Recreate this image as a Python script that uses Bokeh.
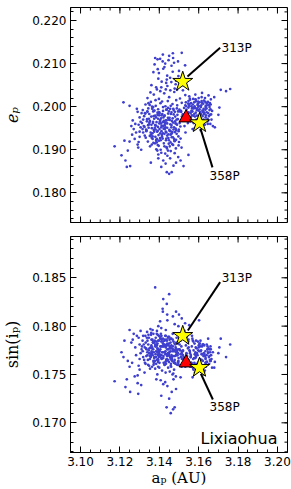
from bokeh.plotting import figure
from bokeh.layouts import column
from bokeh.models import FixedTicker, Range1d, Label, ColumnDataSource, PrintfTickFormatter
from bokeh.embed import file_html
from bokeh.resources import INLINE

# ---- data ----
a_p = [
    # left sparse
    3.1173,3.1208,3.1218,3.1249,3.1228,3.1235,3.1252,3.1223,3.1249,3.1286,
    3.1290,3.1293,3.1290,3.1295,3.1278,3.1270,3.1262,3.1300,3.1305,3.1300,
    3.1240,3.1265,3.1282,3.1305,3.1310,3.1275,3.1258,3.1300,3.1308,3.1295,
    # core A
    3.1362,3.1385,3.1398,3.1410,3.1423,3.1437,3.1449,3.1458,3.1470,3.1484,3.1395,3.1441,3.1478,3.1500,3.1513,
    # core B
    3.1318,3.1331,3.1346,3.1358,3.1372,3.1380,3.1393,3.1405,3.1417,3.1428,
    3.1440,3.1452,3.1463,3.1475,3.1488,3.1497,3.1325,3.1366,3.1412,3.1446,
    # core C
    3.1312,3.1323,3.1337,3.1349,3.1360,3.1374,3.1386,3.1399,3.1408,3.1421,
    3.1433,3.1445,3.1456,3.1468,3.1480,3.1492,3.1503,3.1515,3.1343,3.1391,
    3.1427,3.1462,3.1318,3.1379,3.1440,
    # core D
    3.1316,3.1330,3.1344,3.1357,3.1369,3.1382,3.1394,3.1406,3.1419,3.1431,
    3.1443,3.1455,3.1467,3.1479,3.1491,3.1502,3.1514,3.1526,3.1363,3.1414,
    # core E
    3.1340,3.1372,3.1398,3.1425,3.1450,3.1476,3.1505,3.1532,3.1355,
    # upper spray
    3.1379,3.1391,3.1404,3.1417,3.1469,3.1514,3.1450,3.1470,3.1531,3.1370,
    3.1395,3.1420,3.1440,3.1462,3.1485,3.1500,3.1360,3.1410,3.1435,3.1478,
    3.1515,3.1388,3.1456,3.1495,3.1430,
    # lower tail
    3.1357,3.1438,3.1450,3.1463,3.1472,3.1523,3.1548,3.1420,3.1455,3.1485,
    3.1410,3.1496,3.1432,3.1508,3.1395,
    # right lobe
    3.1535,3.1548,3.1556,3.1563,3.1570,3.1578,3.1585,3.1592,3.1600,3.1607,
    3.1613,3.1620,3.1627,3.1634,3.1641,3.1648,3.1655,3.1662,3.1668,3.1544,
    3.1560,3.1574,3.1589,3.1602,3.1616,3.1631,3.1645,3.1659,3.1672,3.1540,
    3.1552,3.1583,3.1617,3.1650,3.1596,3.1625,3.1566,3.1637,3.1580,3.1610,
    3.1528,3.1519,3.1532,3.1604,3.1665,
    # right outliers
    3.1712,3.1760,3.1700,3.1682,3.1679,3.1739,3.1705,
    # core 2
    3.1335,3.1352,3.1368,3.1384,3.1401,3.1415,3.1436,3.1448,3.1461,3.1473,
    3.1487,3.1499,3.1340,3.1364,3.1389,3.1403,3.1426,3.1458,3.1481,3.1510,
    3.1327,3.1350,3.1377,3.1396,3.1419,3.1438,3.1453,3.1466,3.1494,3.1508,
    3.1345,3.1370,3.1392,3.1411,3.1434,3.1457,3.1471,3.1486,3.1407,3.1429,
    # right 2
    3.1538,3.1551,3.1565,3.1577,3.1590,3.1603,3.1615,3.1628,3.1640,3.1653,
    3.1545,3.1559,3.1572,3.1587,3.1599,3.1612,3.1624,3.1636,3.1658,3.1533,
    3.1581,3.1608,3.1646,3.1569,3.1621,
    # core 3
    3.1321,3.1334,3.1347,3.1361,3.1373,3.1387,3.1400,3.1413,3.1426,3.1439,
    3.1451,3.1464,3.1477,3.1490,3.1503,3.1329,3.1342,3.1356,3.1369,3.1383,
    3.1397,3.1409,3.1422,3.1435,3.1448,3.1460,3.1473,3.1486,3.1498,3.1512,
    3.1338,3.1351,3.1365,3.1378,3.1391,3.1404,3.1418,3.1431,3.1444,3.1457,
    3.1469,3.1482,3.1495,3.1507,3.1520,3.1333,3.1359,3.1385,3.1411,3.1437,
    3.1463,3.1489,3.1348,3.1374,3.1400,3.1426,3.1452,3.1478,3.1381,3.1444,
    # right 3
    3.1537,3.1549,3.1561,3.1573,3.1586,3.1598,3.1611,3.1623,3.1635,3.1647,
    3.1660,3.1542,3.1555,3.1568,3.1581,3.1594,3.1606,3.1619,3.1632,3.1644,
    3.1657,3.1548,3.1574,3.1600,3.1626,3.1652,3.1563,3.1589,3.1615,3.1641,
    # spray 2
    3.1384,3.1398,3.1412,3.1426,3.1441,3.1455,3.1468,3.1483,3.1497,3.1376,
    3.1405,3.1433,3.1461,3.1490,3.1418,3.1447,3.1475,3.1392,3.1438,3.1520,
    # core 4
    3.1366,3.1379,3.1392,3.1405,3.1418,3.1431,3.1444,3.1457,3.1470,3.1483,
    3.1371,3.1384,3.1397,3.1410,3.1423,3.1436,3.1449,3.1462,3.1475,3.1488,
    3.1362,3.1375,3.1388,3.1401,3.1414,3.1427,3.1440,3.1453,3.1466,3.1479,
    3.1368,3.1381,3.1394,3.1407,3.1420,3.1433,3.1446,3.1459,3.1472,3.1485,
    3.1326,3.1339,3.1352,3.1315,3.1498,3.1511,3.1524,3.1353,3.1390,3.1430,
    # right 4
    3.1541,3.1553,3.1566,3.1579,3.1591,3.1604,3.1617,3.1629,3.1642,3.1655,
    3.1547,3.1560,3.1572,3.1585,3.1597,3.1610,3.1623,3.1635,3.1648,3.1661,
    3.1557,3.1583,3.1609,3.1634,3.1663,
]

e_p = [
    0.1908,0.1887,0.2010,0.2002,0.1875,0.1860,0.1862,0.1921,0.1919,0.1995,
    0.1988,0.1905,0.1912,0.1918,0.1960,0.1948,0.1935,0.1930,0.1965,0.1975,
    0.1898,0.1968,0.1940,0.1952,0.1985,0.1925,0.1955,0.1942,0.1900,0.1958,
    0.1912,0.1901,0.1921,0.1893,0.1915,0.1906,0.1922,0.1897,0.1911,0.1903,0.1889,0.1886,0.1892,0.1918,0.1905,
    0.1940,0.1928,0.1951,0.1935,0.1946,0.1930,0.1953,0.1938,0.1926,0.1948,
    0.1933,0.1944,0.1929,0.1952,0.1937,0.1931,0.1953,0.1925,0.1956,0.1927,
    0.1962,0.1978,0.1966,0.1983,0.1958,0.1972,0.1964,0.1980,0.1961,0.1975,
    0.1968,0.1984,0.1959,0.1973,0.1966,0.1981,0.1962,0.1977,0.1957,0.1986,
    0.1957,0.1987,0.1970,0.1979,0.1961,
    0.1992,0.2005,0.1996,0.2011,0.1989,0.2002,0.1994,0.2008,0.1990,0.2001,
    0.2013,0.1995,0.2006,0.1988,0.2003,0.1993,0.2009,0.1997,0.2000,0.2012,
    0.2020,0.2028,0.2018,0.2031,0.2022,0.2034,0.2019,0.2027,0.2033,
    0.2113,0.2110,0.2111,0.2105,0.2124,0.2125,0.2118,0.2113,0.2096,0.2080,
    0.2065,0.2088,0.2072,0.2095,0.2060,0.2083,0.2050,0.2045,0.2055,0.2042,
    0.2050,0.2040,0.2038,0.2105,0.2100,
    0.1870,0.1848,0.1844,0.1848,0.1863,0.1862,0.1888,0.1875,0.1880,0.1870,
    0.1860,0.1883,0.1868,0.1875,0.1880,
    0.2010,0.1998,0.2016,0.1990,0.2005,0.1983,0.2012,0.1996,0.2020,0.1988,
    0.2003,0.1978,0.2014,0.1993,0.2008,0.1985,0.1999,0.2017,0.1990,0.1985,
    0.1975,0.1962,0.1970,0.1955,0.1965,0.1958,0.1972,0.1960,0.1955,0.1968,
    0.2024,0.2028,0.2032,0.2026,0.2007,0.1995,0.1996,0.1980,0.1950,0.1945,
    0.1955,0.1982,0.2003,0.2010,0.1970,
    0.2039,0.2041,0.1981,0.1952,0.2022,0.2036,0.1998,
    0.1945,0.1932,0.1962,0.1975,0.1948,0.1983,0.1940,0.1970,0.1952,0.1992,
    0.1960,0.1947,0.1988,0.1995,0.1942,0.1966,0.1937,0.2002,0.1977,0.1990,
    0.1985,0.1963,0.1951,0.1934,0.1999,0.1993,0.1908,0.1941,0.1971,0.1926,
    0.2008,0.1916,0.1911,0.1980,0.1922,0.1917,0.1995,0.2015,0.1900,0.1963,
    0.1993,0.2002,0.1980,0.2010,0.1992,0.1977,0.2013,0.1986,0.1996,0.2004,
    0.1962,0.1985,0.2018,0.1958,0.2000,0.1982,0.1970,0.2002,0.1981,0.1940,
    0.1997,0.1966,0.1960,0.1948,0.1988,
    0.1955,0.1943,0.1972,0.1928,0.1990,0.1917,0.1961,0.1934,0.1979,0.1903,
    0.1946,0.1967,0.1921,0.1958,0.1989,0.1984,0.1919,0.1940,0.1999,0.1956,
    0.1909,0.1973,0.1949,0.1993,0.1914,0.1936,0.1982,0.1945,0.1910,0.1969,
    0.1971,0.2004,0.1938,0.1915,0.1981,0.1927,0.1964,0.1952,0.1997,0.1943,
    0.1929,0.1961,0.1989,0.1954,0.1976,0.1947,0.1977,0.1923,0.1943,0.1968,
    0.1938,0.1996,0.1959,0.1942,0.1987,0.1908,0.1974,0.1920,0.2015,0.1898,
    0.2001,0.1987,0.2008,0.1979,0.2016,0.1991,0.1999,0.2007,0.1975,0.2011,
    0.1994,0.1972,0.2019,0.1989,0.1977,0.2004,0.1968,0.1991,0.2020,0.1966,
    0.2008,0.2013,0.1996,0.2002,0.1983,0.1978,0.2001,0.1963,0.2022,0.1987,
    0.2045,0.2078,0.2058,0.2092,0.2048,0.2067,0.2081,0.2052,0.2071,0.2098,
    0.2036,0.2040,0.2057,0.2039,0.2121,0.2108,0.2102,0.2087,0.2063,0.2038,
    0.1931,0.1957,0.1944,0.1969,0.1938,0.1961,0.1974,0.1935,0.1963,0.1949,
    0.1978,0.1921,0.1986,0.1952,0.1967,0.1926,0.1989,0.1957,0.1925,0.1970,
    0.1950,0.1991,0.1925,0.1985,0.1930,0.1979,0.1951,0.1969,0.1913,0.1941,
    0.1965,0.1947,0.1972,0.1922,0.1955,0.1942,0.1936,0.1983,0.1947,0.1923,
    0.1933,0.1989,0.1967,0.1948,0.1943,0.1988,0.1971,0.1908,0.1898,0.1891,
    0.1981,0.2006,0.1989,0.2001,0.1979,0.1994,0.2009,0.1984,0.2003,0.1992,
    0.2007,0.1976,0.1997,0.1986,0.2012,0.1973,0.1990,0.1999,0.1968,0.2005,
    0.1966,0.2017,0.1985,0.2011,0.1982,
]

sin_ip = [
    0.1743,0.1773,0.1768,0.1796,0.1737,0.1745,0.1732,0.1785,0.1758,0.1790,
    0.1749,0.1730,0.1741,0.1759,0.1778,0.1792,0.1762,0.1755,0.1772,0.1781,
    0.1764,0.1786,0.1770,0.1795,0.1776,0.1748,0.1783,0.1766,0.1739,0.1788,
    0.1772,0.1745,0.1790,0.1728,0.1781,0.1716,0.1763,0.1710,0.1714,0.1748,0.1785,0.1738,0.1716,0.1776,0.1758,
    0.1768,0.1783,0.1775,0.1791,0.1762,0.1779,0.1770,0.1787,0.1773,0.1760,
    0.1782,0.1769,0.1777,0.1755,0.1771,0.1764,0.1752,0.1796,0.1766,0.1789,
    0.1779,0.1765,0.1788,0.1772,0.1780,0.1767,0.1784,0.1775,0.1792,0.1769,
    0.1778,0.1757,0.1774,0.1786,0.1762,0.1770,0.1781,0.1766,0.1760,0.1773,
    0.1785,0.1767,0.1790,0.1756,0.1776,
    0.1774,0.1761,0.1781,0.1768,0.1776,0.1788,0.1763,0.1779,0.1784,0.1771,
    0.1765,0.1777,0.1750,0.1769,0.1760,0.1787,0.1772,0.1764,0.1758,0.1754,
    0.1785,0.1773,0.1768,0.1780,0.1789,0.1762,0.1775,0.1758,0.1797,
    0.1840,0.1782,0.1805,0.1818,0.1810,0.1808,0.1833,0.1776,0.1803,0.1792,
    0.1800,0.1828,0.1812,0.1770,0.1815,0.1812,0.1786,0.1798,0.1765,0.1802,
    0.1774,0.1795,0.1779,0.1763,0.1790,
    0.1770,0.1780,0.1725,0.1732,0.1745,0.1768,0.1759,0.1740,0.1777,0.1735,
    0.1784,0.1762,0.1752,0.1771,0.1765,
    0.1780,0.1765,0.1772,0.1758,0.1785,0.1762,0.1770,0.1755,0.1778,0.1766,
    0.1760,0.1781,0.1752,0.1774,0.1763,0.1787,0.1769,0.1776,0.1757,0.1783,
    0.1768,0.1775,0.1761,0.1806,0.1771,0.1754,0.1779,0.1764,0.1773,0.1789,
    0.1801,0.1767,0.1759,0.1777,0.1784,0.1750,0.1790,0.1762,0.1771,0.1756,
    0.1795,0.1774,0.1760,0.1782,0.1766,
    0.1787,0.1781,0.1772,0.1763,0.1757,0.1768,0.1778,
    0.1776,0.1769,0.1783,0.1761,0.1774,0.1767,0.1786,0.1772,0.1780,0.1763,
    0.1775,0.1784,0.1770,0.1778,0.1765,0.1789,0.1773,0.1759,0.1781,0.1768,
    0.1762,0.1777,0.1785,0.1771,0.1779,0.1766,0.1753,0.1774,0.1782,0.1747,
    0.1791,0.1764,0.1776,0.1770,0.1761,0.1787,0.1751,0.1773,0.1744,0.1780,
    0.1772,0.1762,0.1779,0.1767,0.1758,0.1774,0.1765,0.1780,0.1770,0.1761,
    0.1777,0.1768,0.1756,0.1785,0.1763,0.1775,0.1769,0.1758,0.1773,0.1766,
    0.1752,0.1779,0.1776,0.1747,0.1764,
    0.1781,0.1769,0.1788,0.1774,0.1763,0.1792,0.1771,0.1779,0.1760,0.1785,
    0.1773,0.1766,0.1782,0.1770,0.1776,0.1790,0.1765,0.1778,0.1784,0.1768,
    0.1775,0.1787,0.1762,0.1780,0.1771,0.1758,0.1774,0.1783,0.1767,0.1779,
    0.1794,0.1772,0.1786,0.1764,0.1777,0.1769,0.1782,0.1774,0.1788,0.1766,
    0.1779,0.1761,0.1772,0.1785,0.1770,0.1777,0.1793,0.1781,0.1790,0.1764,
    0.1768,0.1776,0.1759,0.1783,0.1757,0.1773,0.1786,0.1765,0.1780,0.1770,
    0.1771,0.1778,0.1762,0.1784,0.1768,0.1775,0.1759,0.1781,0.1766,0.1773,
    0.1779,0.1763,0.1774,0.1787,0.1760,0.1770,0.1782,0.1757,0.1769,0.1776,
    0.1765,0.1786,0.1755,0.1780,0.1772,0.1768,0.1762,0.1777,0.1771,0.1781,
    0.1779,0.1772,0.1786,0.1781,0.1806,0.1768,0.1792,0.1776,0.1800,0.1784,
    0.1770,0.1796,0.1787,0.1774,0.1815,0.1780,0.1762,0.1791,0.1823,0.1775,
    0.1770,0.1781,0.1766,0.1776,0.1787,0.1763,0.1772,0.1783,0.1769,0.1778,
    0.1760,0.1774,0.1785,0.1767,0.1779,0.1771,0.1782,0.1765,0.1775,0.1788,
    0.1777,0.1768,0.1780,0.1762,0.1773,0.1786,0.1769,0.1778,0.1764,0.1774,
    0.1783,0.1771,0.1758,0.1779,0.1767,0.1790,0.1776,0.1761,0.1784,0.1770,
    0.1778,0.1773,0.1766,0.1785,0.1760,0.1771,0.1767,0.1756,0.1750,0.1742,
    0.1769,0.1775,0.1761,0.1782,0.1772,0.1765,0.1779,0.1771,0.1763,0.1776,
    0.1784,0.1770,0.1766,0.1778,0.1760,0.1774,0.1781,0.1767,0.1772,0.1764,
    0.1758,0.1773,0.1785,0.1762,0.1770,
]

# special objects: 313P, 358P (stars) and the family parent (triangle)
star_names = ["313P", "358P"]
star_a = [3.1519, 3.1604]
star_e = [0.2058, 0.1962]
star_s = [0.1790, 0.1757]
tri_a = [3.1536]
tri_e = [0.1974]
tri_s = [0.1762]

x_ticks = [3.10, 3.12, 3.14, 3.16, 3.18, 3.20]
e_ticks = [0.180, 0.190, 0.200, 0.210, 0.220]
s_ticks = [0.170, 0.175, 0.180, 0.185]

x_minor = [round(3.095 + 0.005 * i, 4) for i in range(23)]
e_minor = [round(0.174 + 0.002 * i, 4) for i in range(25)]
s_minor = [round(0.167 + 0.001 * i, 4) for i in range(23)]

X_RANGE = (3.0949, 3.2051)
E_RANGE = (0.17311, 0.22302)
S_RANGE = (0.16693, 0.18927)
DOT = "#3f3fcf"
FONT = "DejaVu Sans"
SERIF = "DejaVu Serif"
FRAME_W = 217
FRAME_H1 = 215
FRAME_H2 = 216
DX = (X_RANGE[1] - X_RANGE[0]) / FRAME_W


def style_axis(ax, ticks, minor, fmt):
    ax.ticker = FixedTicker(ticks=ticks, minor_ticks=minor)
    ax.formatter = PrintfTickFormatter(format=fmt)
    ax.major_tick_in = 6
    ax.major_tick_out = 0
    ax.minor_tick_in = 3
    ax.minor_tick_out = 0
    ax.axis_line_color = "black"
    ax.major_tick_line_color = "black"
    ax.minor_tick_line_color = "black"
    ax.major_label_text_font = FONT
    ax.major_label_text_font_size = "12px"
    ax.major_label_text_color = "black"
    ax.major_label_standoff = 4


def mirror_ticks(p, yrange, fh, yticks, yminor, bottom_too):
    # inward ticks drawn on the frame edges that have no labelled axis
    dy = (yrange[1] - yrange[0]) / fh
    x0s, y0s, x1s, y1s = [], [], [], []
    for ticks, n in ((x_ticks, 6), (x_minor, 3)):
        for t in ticks:
            x0s.append(t); y0s.append(yrange[1]); x1s.append(t); y1s.append(yrange[1] - n * dy)
            if bottom_too:
                x0s.append(t); y0s.append(yrange[0]); x1s.append(t); y1s.append(yrange[0] + n * dy)
    for ticks, n in ((yticks, 6), (yminor, 3)):
        for t in ticks:
            x0s.append(X_RANGE[1]); y0s.append(t); x1s.append(X_RANGE[1] - n * DX); y1s.append(t)
    p.segment(x0=x0s, y0=y0s, x1=x1s, y1=y1s, line_color="black", line_width=1)


def make_panel(yvals, ystar, ytri, yrange, fh, yticks, yminor, ylabel, ylabel_style,
               bt, bb, show_x, ann):
    p = figure(frame_width=FRAME_W, frame_height=fh, output_backend="svg",
               toolbar_location=None,
               x_range=Range1d(*X_RANGE), y_range=Range1d(*yrange),
               min_border_left=67, min_border_right=7, min_border_top=bt,
               min_border_bottom=bb, title=None)
    p.xgrid.visible = False
    p.ygrid.visible = False
    p.outline_line_color = "black"
    p.outline_line_width = 1
    p.background_fill_color = "white"
    p.border_fill_color = "white"

    ya = p.yaxis[0]
    style_axis(ya, yticks, yminor, "%.3f")
    ya.axis_label = ylabel
    ya.axis_label_text_font = SERIF
    ya.axis_label_text_font_style = ylabel_style
    ya.axis_label_text_font_size = "16px"
    ya.axis_label_text_color = "black"
    ya.axis_label_standoff = 7

    xa = p.xaxis[0]
    if show_x:
        style_axis(xa, x_ticks, x_minor, "%.2f")
    else:
        xa.visible = False

    mirror_ticks(p, yrange, fh, yticks, yminor, not show_x)

    src = ColumnDataSource(dict(x=a_p, y=yvals))
    p.scatter("x", "y", source=src, size=2.7, fill_color=DOT, line_color=None)

    for (x0, y0, x1, y1, tx, ty, name) in ann:
        p.segment(x0=[x0], y0=[y0], x1=[x1], y1=[y1], line_color="black", line_width=2)
        p.add_layout(Label(x=tx, y=ty, text=name, text_font=FONT, text_font_size="12px",
                           text_baseline="middle", text_align="left", text_color="black"))

    p.scatter(tri_a, ytri, marker="triangle", size=14, fill_color="red",
              line_color="black", line_width=1)
    p.scatter(star_a, ystar, marker="star", size=21, fill_color="yellow",
              line_color="black", line_width=1)
    return p


ann_top = [
    (3.1543, 0.2070, 3.1709, 0.2137, 3.1716, 0.2137, star_names[0]),
    (3.1609, 0.1949, 3.1670, 0.1859, 3.1655, 0.1838, star_names[1]),
]
ann_bot = [
    (3.1545, 0.17955, 3.1709, 0.18455, 3.1717, 0.1850, star_names[0]),
    (3.1611, 0.17507, 3.1672, 0.17241, 3.1655, 0.1716, star_names[1]),
]

p1 = make_panel(e_p, star_e, tri_e, E_RANGE, FRAME_H1, e_ticks, e_minor,
                "e\u209a", "italic", 7, 7, False, ann_top)

p2 = make_panel(sin_ip, star_s, tri_s, S_RANGE, FRAME_H2, s_ticks, s_minor,
                "sin(i\u209a)", "normal", 7, 37, True, ann_bot)

xb = p2.below[0]
xb.axis_label = "a\u209a (AU)"
xb.axis_label_text_font = SERIF
xb.axis_label_text_font_style = "normal"
xb.axis_label_text_font_size = "15px"
xb.axis_label_text_color = "black"
xb.axis_label_standoff = 0

p2.add_layout(Label(x=3.2000, y=0.16837, text="Lixiaohua", text_font=FONT,
                    text_font_size="16px", text_align="right", text_baseline="middle",
                    text_color="black"))

layout = column(p1, p2, spacing=0)

open("out.html", "w").write(file_html(layout, INLINE))
